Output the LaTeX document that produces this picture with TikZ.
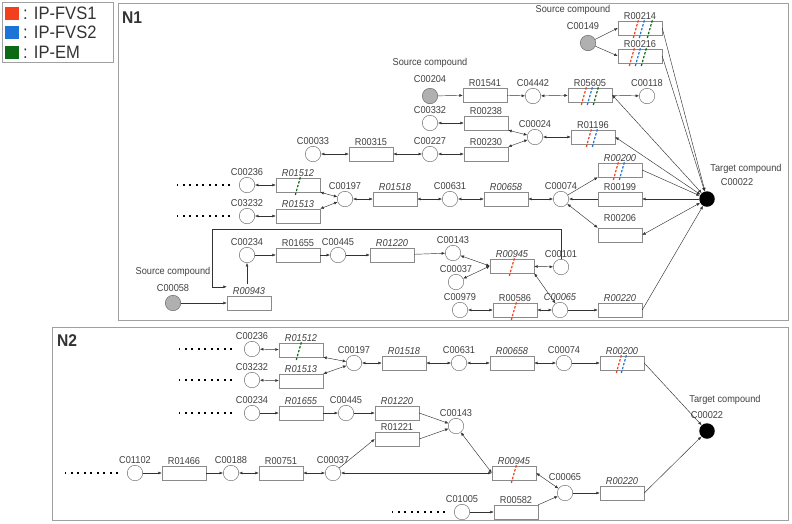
\documentclass[tikz,border=0pt]{standalone}
\usepackage{fontspec}
\setmainfont{Liberation Sans}[FakeStretch=0.92]
\usetikzlibrary{arrows.meta,positioning}

\definecolor{fvsred}{HTML}{F2401C}
\definecolor{fvsblue}{HTML}{1C74D6}
\definecolor{emgreen}{HTML}{0C6A14}
\definecolor{txtgray}{HTML}{404040}
\definecolor{linegray}{HTML}{333333}
\definecolor{cpdgray}{HTML}{5A5A5A}
\definecolor{boxgray}{HTML}{8A8A8A}
\definecolor{framegray}{HTML}{A0A0A0}
\definecolor{srcgray}{HTML}{B0B0B0}

\newcommand{\lblfont}{\fontsize{10}{12}\selectfont}
% slanted dashed mark across a reaction box
\newcommand{\rxnmark}[3]{\draw[#1] ([xshift=#3pt]#2.center) ++(-2.7,10) -- ++(5.4,-19);}

\tikzset{
  >={Latex[length=3.5pt,width=3pt]},
  every label/.append style={font=\lblfont, text=txtgray, inner sep=1pt},
  cpd/.style={circle, draw=cpdgray, fill=white, minimum size=15.5pt, inner sep=0pt, label={above:#1}},
  srccpd/.style={cpd=#1, fill=srcgray},
  tgtcpd/.style={circle, fill=black, minimum size=15.5pt, inner sep=0pt},
  rbox/.style={rectangle, draw=boxgray, fill=white, minimum width=44pt, minimum height=14pt, inner sep=0pt},
  rxn/.style={rbox, label={above:#1}},
  rxni/.style={rbox, label={above:\itshape #1}},
  link/.style={draw=linegray, line width=0.45pt},
  fvsone/.style={draw=fvsred, line width=1.2pt, dash pattern=on 2.4pt off 1.6pt},
  fvstwo/.style={draw=fvsblue, line width=1.2pt, dash pattern=on 2.4pt off 1.6pt},
  emmark/.style={draw=emgreen, line width=1.2pt, dash pattern=on 2.4pt off 1.6pt},
  dots/.style={draw=black, line width=1.6pt, dash pattern=on 1.6pt off 4.9pt},
  frame/.style={draw=framegray, line width=0.6pt},
  legtxt/.style={font=\fontsize{18}{20}\selectfont, text=linegray, anchor=west, inner sep=0pt},
  panel/.style={font=\fontsize{17}{19}\selectfont\bfseries, text=linegray, anchor=west, inner sep=0pt}
}

\begin{document}
\begin{tikzpicture}[x=1pt,y=-1pt]
\useasboundingbox (0,0) rectangle (792,523);

% legend
\draw[frame] (2,2) rectangle (113,62);
\fill[fvsred] (5,7) rectangle (19,20);
\fill[fvsblue] (5,26) rectangle (19,39);
\fill[emgreen] (5,46) rectangle (19,59);
\node[legtxt] (leg1) at (23,13) {: IP-FVS1};
\node[legtxt] (leg2) at (23,32) {: IP-FVS2};
\node[legtxt] (leg3) at (23,52) {: IP-EM};

% frames
\draw[frame] (118,3) rectangle (788,320);
\draw[frame] (52,327) rectangle (788,520);
\node[panel] (n1) at (122,18) {N1};
\node[panel] (n2) at (57,341) {N2};

% ---------- N1 ----------
\node[srccpd=, label={[yshift=19pt,xshift=-15pt]above:Source compound}, label={[yshift=4pt,xshift=-5pt]above:C00149}] (C00149a) at (588,43) {};
\node[rxn=R00214] (R00214a) at (640,28) {};
\node[rxn=R00216] (R00216a) at (640,56) {};
\node[srccpd=, label={[yshift=19pt]above:Source compound}, label={[yshift=4pt]above:C00204}] (C00204a) at (430,96) {};
\node[rxn=R01541] (R01541a) at (485,95) {};
\node[cpd=C04442] (C04442a) at (533,96) {};
\node[rxn=R05605] (R05605a) at (590,95) {};
\node[cpd=C00118] (C00118a) at (647,96) {};
\node[cpd=C00332] (C00332a) at (430,123) {};
\node[rxn=R00238] (R00238a) at (486,123) {};
\node[cpd=C00024] (C00024a) at (535,137) {};
\node[rxn=R01196] (R01196a) at (593,137) {};
\node[cpd=C00033] (C00033a) at (313,154) {};
\node[rxn=R00315] (R00315a) at (371,154) {};
\node[cpd=C00227] (C00227a) at (430,154) {};
\node[rxn=R00230] (R00230a) at (486,154) {};
\node[cpd=C00236] (C00236a) at (247,185) {};
\node[rxni=R01512] (R01512a) at (298,185) {};
\node[cpd=C03232] (C03232a) at (247,216) {};
\node[rxni=R01513] (R01513a) at (298,216) {};
\node[cpd=C00197] (C00197a) at (345,199) {};
\node[rxni=R01518] (R01518a) at (395,199) {};
\node[cpd=C00631] (C00631a) at (450,199) {};
\node[rxni=R00658] (R00658a) at (506,199) {};
\node[cpd=C00074] (C00074a) at (561,199) {};
\node[rxni=R00200] (R00200a) at (620,170) {};
\node[rxn=R00199] (R00199a) at (620,199) {};
\node[rbox, label={[yshift=5pt]above:R00206}] (R00206a) at (620,235) {};
\node[tgtcpd, label={[xshift=39pt,yshift=30pt]center:Target compound}, label={[xshift=30pt,yshift=17pt]center:C00022}] (C00022a) at (707,199) {};
\node[cpd=C00234] (C00234a) at (247,255) {};
\node[rxn=R01655] (R01655a) at (298,255) {};
\node[cpd=C00445] (C00445a) at (338,255) {};
\node[rxni=R01220] (R01220a) at (392,255) {};
\node[cpd=C00143] (C00143a) at (453,253) {};
\node[rxni=R00945] (R00945a) at (512,266) {};
\node[cpd=C00101] (C00101a) at (561,267) {};
\node[cpd=C00037] (C00037a) at (456,282) {};
\node[cpd=C00979] (C00979a) at (460,310) {};
\node[rxn=R00586] (R00586a) at (515,310) {};
\node[cpd={\itshape C00065}] (C00065a) at (560,310) {};
\node[rxni=R00220] (R00220a) at (620,310) {};
\node[srccpd=, label={[yshift=17pt]above:Source compound}, label={[yshift=2pt]above:C00058}] (C00058a) at (173,303) {};
\node[rxni=R00943] (R00943a) at (249,303) {};

\draw[dots] ([xshift=-9pt]C00236a.west) -- ++(-53,0);
\draw[dots] ([xshift=-9pt]C03232a.west) -- ++(-53,0);

\draw[link,->] (C00149a) -- (R00214a.west);
\draw[link,->] (C00149a) -- (R00216a.west);
\draw[link,->] (R00214a.east) -- (C00022a);
\draw[link,->] (R00216a.east) -- (C00022a);
\draw[link,->] (C00204a) -- (R01541a);
\draw[link,->] (R01541a) -- (C04442a);
\draw[link,<->] (C04442a) -- (R05605a);
\draw[link,->] (R05605a) -- (C00118a);
\draw[link,<->] (C00022a) -- (R05605a.east);
\draw[link,<->] (C00332a) -- (R00238a);
\draw[link,<->] (R00238a.south east) -- (C00024a);
\draw[link,<->] (C00024a) -- (R01196a);
\draw[link,<->] (C00022a) -- (R01196a.east);
\draw[link,<->] (C00033a) -- (R00315a);
\draw[link,<->] (R00315a) -- (C00227a);
\draw[link,<->] (C00227a) -- (R00230a);
\draw[link,<->] (R00230a.north east) -- (C00024a);
\draw[link,<->] (C00236a) -- (R01512a);
\draw[link,<->] (C03232a) -- (R01513a);
\draw[link,<->] (R01512a.south east) -- (C00197a);
\draw[link,<->] (R01513a.north east) -- (C00197a);
\draw[link,<->] (C00197a) -- (R01518a);
\draw[link,<->] (R01518a) -- (C00631a);
\draw[link,<->] (C00631a) -- (R00658a);
\draw[link,<->] (R00658a) -- (C00074a);
\draw[link,->] (C00074a) -- (R00200a.south west);
\draw[link,->] (R00200a.east) -- (C00022a);
\draw[link,->] (C00022a) -- (R00199a);
\draw[link,->] (R00199a) -- (C00074a);
\draw[link,<->] (C00074a) -- (R00206a.north west);
\draw[link,<->] (R00206a.east) -- (C00022a);
\draw[link,->] (C00234a) -- (R01655a);
\draw[link,->] (R01655a) -- (C00445a);
\draw[link,->] (C00445a) -- (R01220a);
\draw[link,->] (R01220a) -- (C00143a);
\draw[link,<->] (C00143a) -- (R00945a.west);
\draw[link,<->] (C00037a) -- (R00945a.west);
\draw[link,<->] (R00945a) -- (C00101a);
\draw[link,<->] (R00945a.south east) -- (C00065a);
\draw[link,<->] (C00979a) -- (R00586a);
\draw[link,<->] (R00586a) -- (C00065a);
\draw[link,->] (C00065a) -- (R00220a);
\draw[link,->] (R00220a.east) -- (C00022a);
\draw[link,->] (C00058a) -- (R00943a);
\draw[link,->] ([yshift=12pt]R00943a.north -| C00234a) -- (C00234a);
\draw[link,->] (C00101a.north) |- (212,229) |- ([yshift=9pt]R00943a.north west);

\rxnmark{fvsone}{R00214a}{-4}
\rxnmark{fvstwo}{R00214a}{2}
\rxnmark{emmark}{R00214a}{10}
\rxnmark{fvsone}{R00216a}{-8}
\rxnmark{fvstwo}{R00216a}{-2}
\rxnmark{emmark}{R00216a}{4}
\rxnmark{fvsone}{R05605a}{-6}
\rxnmark{fvstwo}{R05605a}{0}
\rxnmark{emmark}{R05605a}{6}
\rxnmark{fvsone}{R01196a}{-4}
\rxnmark{fvstwo}{R01196a}{2}
\rxnmark{fvsone}{R00200a}{-4}
\rxnmark{fvstwo}{R00200a}{2}
\rxnmark{fvsone}{R00945a}{0}
\rxnmark{fvsone}{R00586a}{-1}
\rxnmark{emmark}{R01512a}{0}

% ---------- N2 ----------
\node[cpd=C00236] (C00236b) at (252,349) {};
\node[rxni=R01512] (R01512b) at (301,350) {};
\node[cpd=C03232] (C03232b) at (252,380) {};
\node[rxni=R01513] (R01513b) at (301,381) {};
\node[cpd=C00197] (C00197b) at (354,363) {};
\node[rxni=R01518] (R01518b) at (404,363) {};
\node[cpd=C00631] (C00631b) at (459,363) {};
\node[rxni=R00658] (R00658b) at (512,363) {};
\node[cpd=C00074] (C00074b) at (564,363) {};
\node[rxni=R00200] (R00200b) at (622,363) {};
\node[tgtcpd, label={[xshift=18pt,yshift=31pt]center:Target compound}, label={[yshift=3pt]above:C00022}] (C00022b) at (707,431) {};
\node[cpd=C00234] (C00234b) at (252,413) {};
\node[rxni=R01655] (R01655b) at (301,413) {};
\node[cpd=C00445] (C00445b) at (346,413) {};
\node[rxni=R01220] (R01220b) at (397,413) {};
\node[rxn=R01221] (R01221b) at (397,439) {};
\node[cpd=C00143] (C00143b) at (456,426) {};
\node[cpd=C01102] (C01102b) at (135,473) {};
\node[rxn=R01466] (R01466b) at (184,473) {};
\node[cpd=C00188] (C00188b) at (231,473) {};
\node[rxn=R00751] (R00751b) at (281,473) {};
\node[cpd=C00037] (C00037b) at (333,473) {};
\node[rxni=R00945] (R00945b) at (514,473) {};
\node[cpd=, label={[yshift=3pt]above:C00065}] (C00065b) at (565,493) {};
\node[rxni=R00220] (R00220b) at (622,493) {};
\node[cpd=C01005] (C01005b) at (462,512) {};
\node[rxn=R00582] (R00582b) at (516,512) {};

\draw[dots] ([xshift=-12pt]C00236b.west) -- ++(-53,0);
\draw[dots] ([xshift=-12pt]C03232b.west) -- ++(-53,0);
\draw[dots] ([xshift=-12pt]C00234b.west) -- ++(-53,0);
\draw[dots] ([xshift=-9pt]C01102b.west) -- ++(-53,0);
\draw[dots] ([xshift=-9pt]C01005b.west) -- ++(-53,0);

\draw[link,<->] (C00236b) -- (R01512b);
\draw[link,<->] (C03232b) -- (R01513b);
\draw[link,<->] (R01512b.south east) -- (C00197b);
\draw[link,<->] (R01513b.north east) -- (C00197b);
\draw[link,<->] (C00197b) -- (R01518b);
\draw[link,<->] (R01518b) -- (C00631b);
\draw[link,<->] (C00631b) -- (R00658b);
\draw[link,<->] (R00658b) -- (C00074b);
\draw[link,->] (C00074b) -- (R00200b);
\draw[link,->] (R00200b.east) -- (C00022b);
\draw[link,->] (C00234b) -- (R01655b);
\draw[link,->] (R01655b) -- (C00445b);
\draw[link,->] (C00445b) -- (R01220b);
\draw[link,->] (R01220b.east) -- (C00143b);
\draw[link,->] (R01221b.east) -- (C00143b);
\draw[link,->] (C00037b) -- (R01221b.west);
\draw[link,->] (C01102b) -- (R01466b);
\draw[link,->] (R01466b) -- (C00188b);
\draw[link,<->] (C00188b) -- (R00751b);
\draw[link,<->] (R00751b) -- (C00037b);
\draw[link,<->] (C00037b) -- (R00945b);
\draw[link,<->] (C00143b) -- (R00945b.west);
\draw[link,<->] (R00945b.east) -- (C00065b);
\draw[link,->] (C01005b) -- (R00582b);
\draw[link,->] (R00582b.north east) -- (C00065b);
\draw[link,->] (C00065b) -- (R00220b);
\draw[link,->] (R00220b.east) -- (C00022b);

\rxnmark{emmark}{R01512b}{-2}
\rxnmark{fvsone}{R00200b}{-3}
\rxnmark{fvstwo}{R00200b}{2}
\rxnmark{fvsone}{R00945b}{0}
\end{tikzpicture}
\end{document}
